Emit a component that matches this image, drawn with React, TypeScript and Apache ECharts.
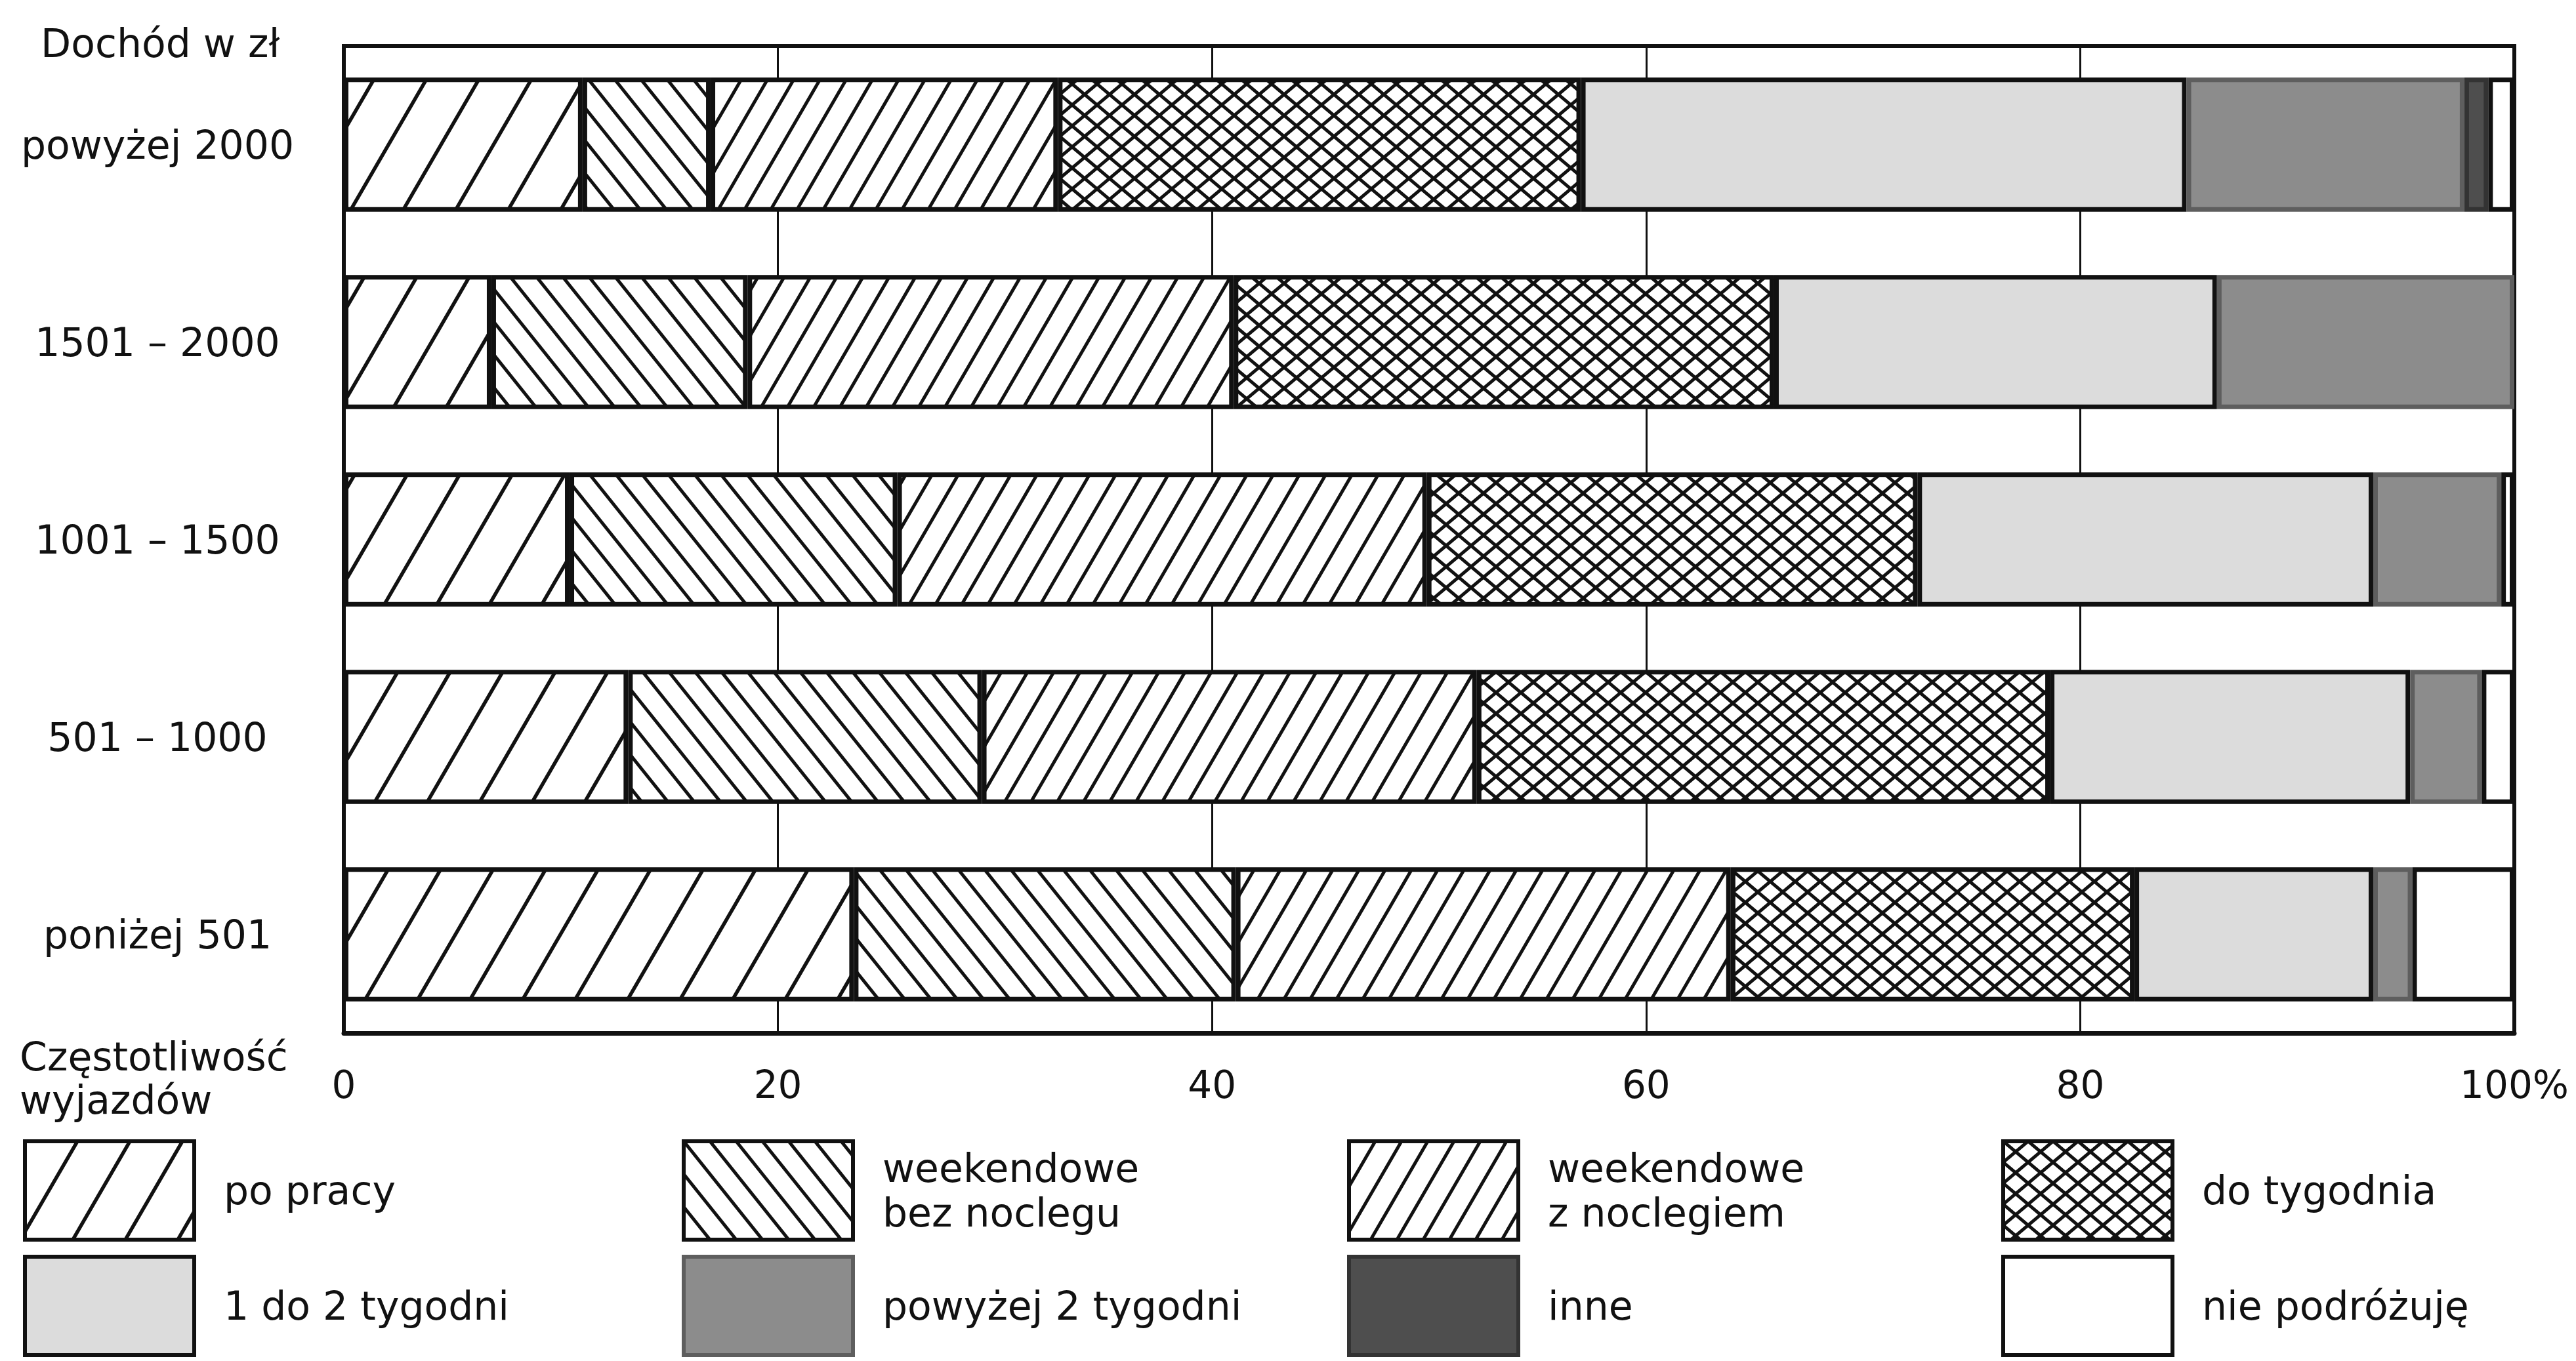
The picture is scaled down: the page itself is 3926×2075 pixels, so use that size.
import React, { useEffect, useRef } from "react";
import * as echarts from "echarts";

const categories = ["powyżej 2000", "1501 – 2000", "1001 – 1500", "501 – 1000", "poniżej 501"];
const seriesNames = [
  "po pracy",
  "weekendowe\nbez noclegu",
  "weekendowe\nz noclegiem",
  "do tygodnia",
  "1 do 2 tygodni",
  "powyżej 2 tygodni",
  "inne",
  "nie podróżuję",
];
const poPracy = [11.0, 6.8, 10.4, 13.1, 23.5];
const bezNoclegu = [5.9, 11.8, 15.1, 16.3, 17.6];
const zNoclegiem = [16.0, 22.4, 24.4, 22.8, 22.8];
const doTygodnia = [24.1, 24.9, 22.6, 26.4, 18.6];
const jedenDoDwoch = [27.9, 20.4, 21.0, 16.6, 11.0];
const powyzejDwoch = [12.8, 13.7, 5.9, 3.3, 1.8];
const inne = [1.1, null, null, null, null];
const niePodrozuje = [1.2, null, 0.6, 1.5, 4.7];
const xTicks = [0, 20, 40, 60, 80, 100];

const FONT = "DejaVu Sans";
const INK = "#111111";

function hatch(w: number, h: number, fwd: boolean, back: boolean, sw: number) {
  let lines = "";
  for (let k = -2; k <= 2; k++) {
    if (fwd) lines += `<line x1="${k * w - w}" y1="${2 * h}" x2="${k * w + 2 * w}" y2="${-h}"/>`;
    if (back) lines += `<line x1="${k * w - w}" y1="${-h}" x2="${k * w + 2 * w}" y2="${2 * h}"/>`;
  }
  const svg = `<svg xmlns="http://www.w3.org/2000/svg" width="${w}" height="${h}"><rect width="${w}" height="${h}" fill="#ffffff"/><g stroke="${INK}" stroke-width="${sw}">${lines}</g></svg>`;
  return {
    image: "data:image/svg+xml;charset=utf-8," + encodeURIComponent(svg),
    repeat: "repeat",
    imageWidth: w,
    imageHeight: h,
  };
}

export default function App() {
  const ref = useRef<HTMLDivElement>(null);
  useEffect(() => {
    if (!ref.current) return;
    const chart = echarts.init(ref.current, null, { renderer: "svg" });
    const fills: any[] = [
      hatch(80, 138, true, false, 5.5),
      hatch(40, 50, false, true, 5),
      hatch(40, 69, true, false, 5),
      hatch(38, 32, true, true, 5),
      "#dcdcdc",
      "#8c8c8c",
      "#4e4e4e",
      "#ffffff",
    ];
    const borders = [INK, INK, INK, INK, INK, "#5e5e5e", "#333333", INK];
    const values = [poPracy, bezNoclegu, zNoclegiem, doTygodnia, jedenDoDwoch, powyzejDwoch, inne, niePodrozuje];
    const colX = [30, 1034, 2048, 3045];
    const option: any = {
      animation: false,
      backgroundColor: "#ffffff",
      grid: {
        left: 524,
        right: 94,
        top: 70,
        bottom: 500,
        show: true,
        borderColor: INK,
        borderWidth: 6,
        containLabel: false,
      },
      xAxis: {
        type: "value",
        min: 0,
        max: 100,
        interval: 20,
        axisLine: { show: true, lineStyle: { color: INK, width: 7 } },
        axisTick: { show: false },
        splitLine: { show: true, lineStyle: { color: INK, width: 3 } },
        axisLabel: {
          fontSize: 58,
          fontFamily: FONT,
          color: INK,
          margin: 50,
          formatter: (v: number) => (v === 100 ? "100%" : String(v)),
          customValues: xTicks,
        },
      },
      yAxis: {
        type: "category",
        data: categories,
        inverse: true,
        axisLine: { show: false },
        axisTick: { show: false },
        axisLabel: {
          fontSize: 60,
          fontFamily: FONT,
          color: INK,
          align: "center",
          margin: 284,
        },
      },
      legend: colX.map((x, i) => ({
        orient: "vertical",
        left: x,
        top: 1732,
        itemWidth: 258,
        itemHeight: 150,
        itemGap: 20,
        icon: "rect",
        selectedMode: false,
        data: [seriesNames[i], seriesNames[i + 4]],
        itemStyle: { borderWidth: 6 },
        textStyle: {
          fontSize: 60,
          fontFamily: FONT,
          color: INK,
          lineHeight: 68,
          padding: [0, 0, 0, 40],
        },
      })),
      graphic: [
        {
          type: "text",
          left: 62,
          top: 36,
          style: { text: "Dochód w zł", fontSize: 60, fontFamily: FONT, fill: INK },
        },
        {
          type: "text",
          left: 30,
          top: 1578,
          style: {
            text: "Częstotliwość\nwyjazdów",
            fontSize: 60,
            lineHeight: 66,
            fontFamily: FONT,
            fill: INK,
          },
        },
      ],
      series: seriesNames.map((name, i) => ({
        name,
        type: "bar",
        stack: "total",
        barCategoryGap: "32%",
        data: values[i],
        itemStyle: {
          color: fills[i],
          borderColor: borders[i],
          borderWidth: 7,
        },
        emphasis: { disabled: true },
        silent: true,
      })),
    };
    chart.setOption(option);
    return () => chart.dispose();
  }, []);
  return (
    <div
      ref={ref}
      style={{ position: "fixed", left: 0, top: 0, width: 3926, height: 2075, background: "#fff" }}
    />
  );
}
